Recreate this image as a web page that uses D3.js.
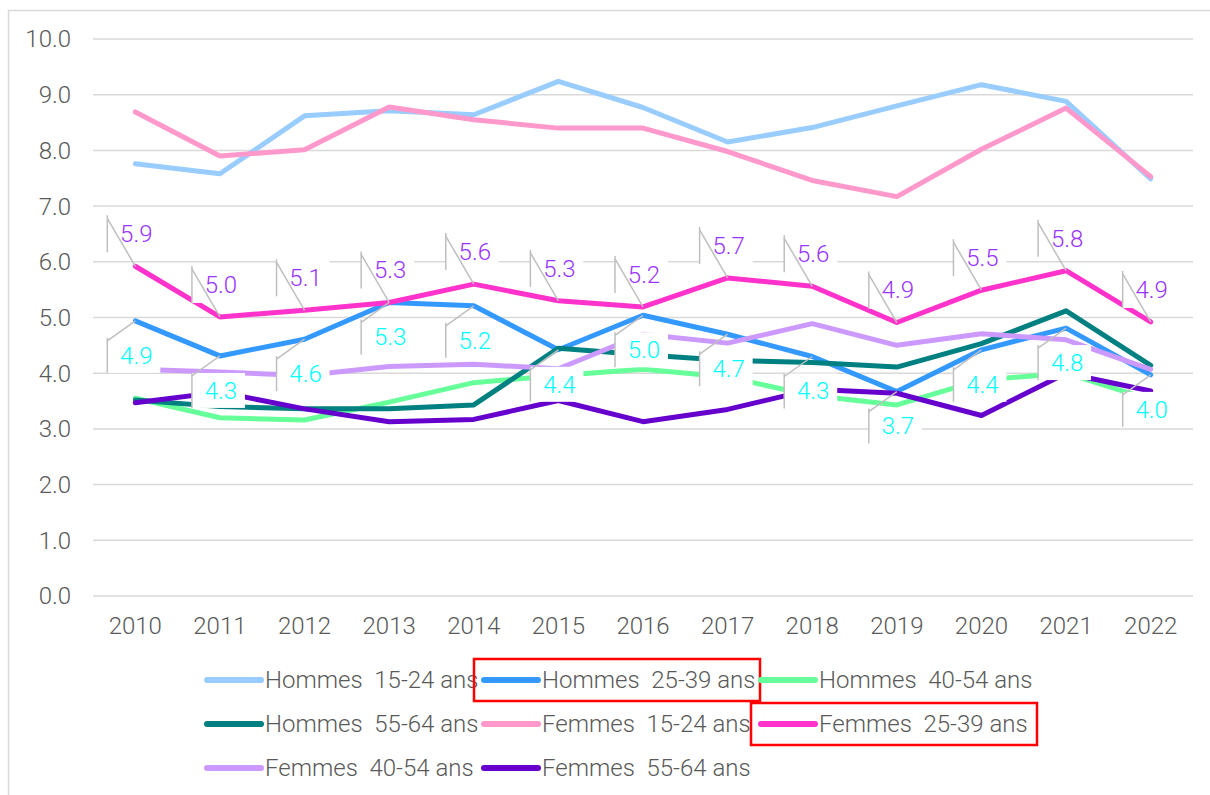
<!DOCTYPE html>
<html>
<head>
<meta charset="utf-8">
<script src="https://cdn.jsdelivr.net/npm/d3@7/dist/d3.min.js"></script>
<style>
  body { margin: 0; background: #fff; }
  svg text { font-family: Roboto, "Noto Sans", sans-serif; font-weight: 300; }
</style>
</head>
<body>
<script>
// categories
var years = ["2010","2011","2012","2013","2014","2015","2016","2017","2018","2019","2020","2021","2022"];
var yTicks = [0,1,2,3,4,5,6,7,8,9,10];

// series values
var hommes1524 = [7.76, 7.58, 8.62, 8.71, 8.64, 9.24, 8.77, 8.15, 8.41, 8.80, 9.18, 8.88, 7.49];
var hommes2539 = [4.94, 4.31, 4.61, 5.27, 5.21, 4.42, 5.04, 4.70, 4.30, 3.67, 4.42, 4.81, 3.97];
var hommes4054 = [3.55, 3.20, 3.16, 3.48, 3.83, 3.96, 4.07, 3.93, 3.60, 3.43, 3.88, 4.00, 3.52];
var hommes5564 = [3.52, 3.40, 3.36, 3.36, 3.43, 4.45, 4.33, 4.23, 4.19, 4.11, 4.53, 5.12, 4.14];
var femmes1524 = [8.69, 7.90, 8.01, 8.78, 8.55, 8.40, 8.40, 7.98, 7.46, 7.17, 8.02, 8.76, 7.53];
var femmes2539 = [5.92, 5.01, 5.13, 5.27, 5.60, 5.30, 5.19, 5.71, 5.56, 4.91, 5.49, 5.84, 4.92];
var femmes4054 = [4.07, 4.02, 3.96, 4.12, 4.16, 4.08, 4.70, 4.54, 4.89, 4.50, 4.71, 4.60, 4.07];
var femmes5564 = [3.47, 3.66, 3.36, 3.13, 3.17, 3.51, 3.13, 3.35, 3.71, 3.64, 3.24, 4.00, 3.68];

var seriesNames = ["Hommes  15-24 ans","Hommes  25-39 ans","Hommes  40-54 ans","Hommes  55-64 ans",
                   "Femmes  15-24 ans","Femmes  25-39 ans","Femmes  40-54 ans","Femmes  55-64 ans"];
var seriesColors = ["#99ccff","#3399ff","#66ff99","#008080","#ff99cc","#ff33cc","#cc99ff","#6600cc"];
var seriesValues = [hommes1524, hommes2539, hommes4054, hommes5564, femmes1524, femmes2539, femmes4054, femmes5564];

var width = 1210, height = 795;

var svg = d3.select("body").append("svg")
    .attr("width", width)
    .attr("height", height);

// chart frame
svg.append("rect")
    .attr("x", 8.5).attr("y", 10.5)
    .attr("width", 1220).attr("height", 820)
    .attr("fill", "#fff")
    .attr("stroke", "#d9d9d9")
    .attr("stroke-width", 1.5);

var plot = {left: 93, right: 1193, top: 39, bottom: 596};

var x = d3.scaleBand()
    .domain(years)
    .range([plot.left, plot.right])
    .padding(0);
var y = d3.scaleLinear()
    .domain([0, 10])
    .range([plot.bottom, plot.top]);

function cx(d, i) { return x(years[i]) + x.bandwidth() / 2; }

// gridlines
svg.append("g")
  .selectAll("line")
  .data(yTicks)
  .enter().append("line")
    .attr("x1", plot.left).attr("x2", plot.right)
    .attr("y1", function(d){ return y(d); })
    .attr("y2", function(d){ return y(d); })
    .attr("stroke", "#d9d9d9")
    .attr("stroke-width", 1.5);

// y axis labels
svg.append("g")
  .selectAll("text")
  .data(yTicks)
  .enter().append("text")
    .attr("x", 71)
    .attr("y", function(d){ return y(d); })
    .attr("dy", "0.35em")
    .attr("text-anchor", "end")
    .attr("font-size", 24)
    .attr("fill", "#595959")
    .text(function(d){ return d3.format(".1f")(d); });

// x axis labels
svg.append("g")
  .selectAll("text")
  .data(years)
  .enter().append("text")
    .attr("x", function(d){ return x(d) + x.bandwidth() / 2; })
    .attr("y", 634)
    .attr("text-anchor", "middle")
    .attr("font-size", 24)
    .attr("fill", "#595959")
    .text(function(d){ return d; });

// lines
var line = d3.line()
    .x(cx)
    .y(function(d){ return y(d); });

svg.append("g")
  .selectAll("path")
  .data(seriesValues)
  .enter().append("path")
    .attr("d", line)
    .attr("fill", "none")
    .attr("stroke", function(d, i){ return seriesColors[i]; })
    .attr("stroke-width", 5)
    .attr("stroke-linecap", "round")
    .attr("stroke-linejoin", "round");

// data labels with leader lines (femmes 25-39 above, hommes 25-39 below)
function dataLabels(values, above, color) {
  var g = svg.append("g");
  values.forEach(function(v, i) {
    var px = cx(v, i), py = y(v);
    var top = above ? py - 51 : py + 17;
    var bot = above ? py - 14 : py + 52;
    g.append("rect")
      .attr("x", px - 28).attr("y", top)
      .attr("width", 53).attr("height", bot - top)
      .attr("fill", "#fff");
    g.append("line")
      .attr("x1", px - 28).attr("x2", px - 28)
      .attr("y1", top).attr("y2", bot)
      .attr("stroke", "#bfbfbf").attr("stroke-width", 1.5);
    g.append("line")
      .attr("x1", px - 28).attr("y1", top + 3)
      .attr("x2", px).attr("y2", py)
      .attr("stroke", "#bfbfbf").attr("stroke-width", 1.5);
    g.append("text")
      .attr("x", px + 1)
      .attr("y", (top + bot) / 2)
      .attr("dy", "0.35em")
      .attr("text-anchor", "middle")
      .attr("font-size", 24)
      .attr("fill", color)
      .text(d3.format(".1f")(v));
  });
}
dataLabels(femmes2539, true, "#9933ff");
dataLabels(hommes2539, false, "#00ffff");

// legend
var legendCols = [205, 482, 759];
var legendRows = [680, 724, 768];
var legend = svg.append("g")
  .selectAll("g")
  .data(seriesNames)
  .enter().append("g")
    .attr("transform", function(d, i){
      return "translate(" + legendCols[i % 3] + "," + legendRows[Math.floor(i / 3)] + ")";
    });

legend.append("line")
    .attr("x1", 2).attr("x2", 56)
    .attr("y1", 0).attr("y2", 0)
    .attr("stroke", function(d, i){ return seriesColors[i]; })
    .attr("stroke-width", 6)
    .attr("stroke-linecap", "round");

legend.append("text")
    .attr("x", 60)
    .attr("dy", "0.35em")
    .attr("font-size", 24)
    .attr("fill", "#595959")
    .style("white-space", "pre")
    .text(function(d){ return d; });

// red highlight boxes round the 25-39 entries
legend.filter(function(d, i){ return i === 1 || i === 5; })
  .append("rect")
    .attr("x", -8).attr("y", -21)
    .attr("width", 286).attr("height", 42)
    .attr("fill", "none")
    .attr("stroke", "#ff0000")
    .attr("stroke-width", 2.5);
</script>
</body>
</html>
